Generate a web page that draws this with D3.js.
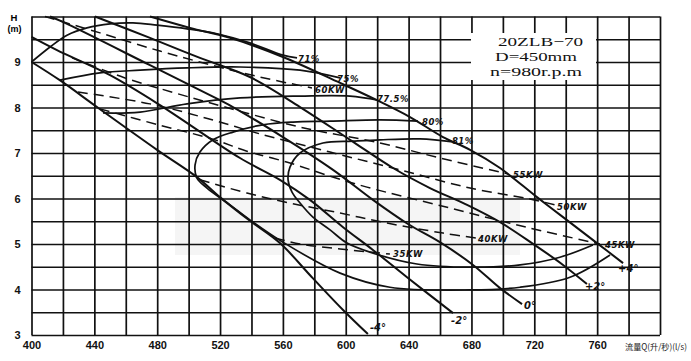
<!DOCTYPE html>
<html><head><meta charset="utf-8">
<script src="https://cdn.jsdelivr.net/npm/d3@7"></script>
<style>body{margin:0;background:#fff}svg{display:block}</style>
</head><body>
<svg id="c" width="691" height="361"></svg>
<script>
// ---------- data ----------
const xTicks = [400,440,480,520,560,600,640,680,720,760];
const yTicks = [3,4,5,6,7,8,9];
const titleLines = ["20ZLB\u221270","D=450mm","n=980r.p.m"];
const xTitle = "流量Q(升/秒)(l/s)";

// H-Q curves by blade angle [Q (l/s), H (m)]
const bladeNames = ["-4°","-2°","0°","+2°","+4°"];
const bladeM4 = [[400,9.0],[418,8.60],[441.7,8.01],[479.9,7.07],[505.3,6.47],[519.9,6.03],[539,5.51],[558.1,5.02],[579,4.25],[598.3,3.55],[614.1,3.02]];
const bladeM2 = [[400,9.55],[416.2,9.26],[450,8.71],[483.7,8.01],[532.7,6.89],[558.1,6.41],[577.2,5.97],[598.3,5.37],[617.3,4.87],[639,4.27],[668.3,3.48]];
const blade0  = [[411.8,10],[420,9.88],[475.4,8.93],[507.2,8.38],[528.2,8.01],[560,7.35],[591.9,6.63],[617.3,5.97],[639.6,5.44],[659.9,5.04],[681,4.54],[698.2,4.03],[712.2,3.68]];
const bladeP2 = [[440.4,10],[475.4,9.53],[507.2,9.09],[539,8.67],[570.9,8.01],[602.7,7.29],[630.1,6.67],[653.6,6.23],[677.2,5.86],[698.2,5.48],[718.5,5.02],[738.3,4.54],[753.5,4.12]];
const bladeP4 = [[475.4,10],[500.9,9.75],[526.3,9.53],[560,9.11],[596.4,8.54],[619.9,8.16],[640.9,7.79],[661.9,7.35],[679.1,7.07],[698.2,6.67],[721.7,6.03],[738.3,5.59],[759.9,5.02],[776.5,4.58]];

// iso-efficiency curves
const effNames = ["71%","75%","77.5%","80%","81%"];
const eff71  = [[400,9.0],[411.8,9.33],[422.6,9.59],[435.3,9.75],[450,9.84],[464.6,9.86],[479.9,9.81],[499,9.73],[518,9.62],[539,9.42],[560,9.15],[569,9.09]];
const eff75  = [[418.1,8.6],[443.6,8.76],[469.1,8.82],[499,8.87],[532.7,8.89],[570.9,8.82],[596.4,8.65]];
const eff775 = [[445.5,7.88],[469.1,7.9],[499,8.08],[532.7,8.21],[570.9,8.25],[602.7,8.25],[620.5,8.16]];
const eff80  = [[646,7.70],[621.8,7.73],[590,7.70],[566.4,7.68],[547.3,7.62],[528.2,7.46],[515.5,7.29],[507.2,7.02],[504.1,6.74],[505.3,6.45],[511.7,6.23],[526.3,5.86],[539,5.53],[560,5.04],[596.4,4.36],[628.1,4.05],[679.1,3.99],[711,4.05],[742.7,4.27],[768.2,4.76]];
const eff81  = [[669.5,7.24],[647.2,7.31],[621.8,7.29],[604.6,7.26],[585.5,7.22],[570.9,7.0],[564.5,6.69],[563.3,6.41],[565.8,6.14],[570.9,5.9],[579.1,5.59],[590,5.31],[600.8,5.02],[615.4,4.82],[645.3,4.56],[679.1,4.49],[711,4.54],[736.3,4.71],[757.3,4.98]];

// iso-power curves (dashed)
const powNames = ["60KW","55KW","50KW","45KW","40KW","35KW"];
const pow60 = [[408.6,10],[443.6,9.64],[481.8,9.24],[514.9,8.93],[545.4,8.67],[578.5,8.43]];
const pow55 = [[425.8,9.09],[459.5,8.65],[491.3,8.32],[523.1,8.01],[570.9,7.57],[621.8,7.22],[659.9,6.89],[703.3,6.54]];
const pow50 = [[429.6,8.34],[475.4,8.08],[514.9,7.73],[545.4,7.42],[590,7.02],[634.5,6.63],[679.1,6.23],[717.2,5.99],[733.2,5.86]];
const pow45 = [[443.6,7.97],[480.5,7.62],[514.9,7.31],[537.1,7.04],[564.5,6.78],[590,6.49],[613.5,6.25],[666.4,5.79],[717.2,5.35],[761.8,5.0]];
const pow40 = [[507.2,6.41],[537.1,6.12],[564.5,5.9],[596.4,5.68],[626.3,5.46],[661.9,5.24],[683.6,5.13]];
const pow35 = [[555,5.13],[570.9,5.0],[596.4,4.89],[628.1,4.78]];

// ---------- layout ----------
const svg = d3.select("#c");
const L = 31.5, R = 660, T = 16.5, B = 335;
const x = d3.scaleLinear().domain([400,800]).range([L,R]);
const y = d3.scaleLinear().domain([3,10]).range([B,T]);

svg.append("rect").attr("width",691).attr("height",361).attr("fill","#fff");

// faint watermark blocks
svg.append("rect").attr("x",175).attr("y",197).attr("width",345).attr("height",58).attr("fill","#f5f5f5");

// grid
const gx = svg.append("g").attr("transform",`translate(0,${B})`)
  .call(d3.axisBottom(x).tickValues(d3.range(400,801,20)).tickSize(-(B-T)).tickFormat(""));
const gy = svg.append("g").attr("transform",`translate(${L},0)`)
  .call(d3.axisLeft(y).tickValues(d3.range(3,10.01,0.5)).tickSize(-(R-L)).tickFormat(""));
[gx,gy].forEach(g=>{g.select(".domain").remove();g.selectAll("line").attr("stroke","#111").attr("stroke-width",1.7);});

// title box
svg.append("rect").attr("x",471).attr("y",33).attr("width",125).attr("height",47).attr("fill","#fff");
const tW=[85,82,92], tX=[498,495,490], tY=[46,61,76];
titleLines.forEach((t,i)=>svg.append("text").attr("x",tX[i]).attr("y",tY[i])
  .attr("font-family","Liberation Serif, serif").attr("font-size",13).attr("fill","#111")
  .attr("textLength",tW[i]).attr("lengthAdjust","spacingAndGlyphs").text(t));

// tick labels
const ax = svg.append("g").attr("transform",`translate(0,${B})`)
  .call(d3.axisBottom(x).tickValues(xTicks).tickSize(0).tickPadding(6).tickFormat(d3.format("d")));
ax.select(".domain").remove();
ax.selectAll("text").attr("font-family","Liberation Sans, Arial, sans-serif").attr("font-weight","bold").attr("font-size",11).attr("fill","#111");
const ay = svg.append("g").attr("transform",`translate(${L},0)`)
  .call(d3.axisLeft(y).tickValues(yTicks).tickSize(0).tickPadding(11).tickFormat(d3.format("d")));
ay.select(".domain").remove();
ay.selectAll("text").attr("font-family","Liberation Sans, Arial, sans-serif").attr("font-weight","bold").attr("font-size",11).attr("fill","#111");

svg.append("text").attr("x",14).attr("y",21).attr("text-anchor","middle").attr("font-family","Liberation Sans, Arial, sans-serif").attr("font-weight","bold").attr("font-size",9.5).text("H");
svg.append("text").attr("x",14.5).attr("y",32).attr("text-anchor","middle").attr("font-family","Liberation Sans, Arial, sans-serif").attr("font-weight","bold").attr("font-size",9).text("(m)");
svg.append("text").attr("x",625).attr("y",350).attr("font-family","Noto Sans CJK SC, serif").attr("font-size",8.5).attr("fill","#222")
  .attr("textLength",62).attr("lengthAdjust","spacingAndGlyphs").text(xTitle);

// curves
const line = d3.line().x(d=>x(d[0])).y(d=>y(d[1])).curve(d3.curveCatmullRom.alpha(0.5));
const labelStyle = s=>s.attr("font-family","DejaVu Sans, sans-serif").attr("font-style","italic").attr("font-weight","bold").attr("fill","#111");

const powSeries = [pow60,pow55,pow50,pow45,pow40,pow35];
const powOff = [[3,5],[5,4],[2,5],[5,4],[1,4],[3,3]];
powSeries.forEach((s,i)=>{
  svg.append("path").attr("d",line(s)).attr("fill","none").attr("stroke","#111").attr("stroke-width",1.5).attr("stroke-dasharray","10,6");
  const e=s[s.length-1];
  svg.append("text").attr("x",x(e[0])+powOff[i][0]).attr("y",y(e[1])+powOff[i][1]).attr("font-size",8.5)
    .attr("letter-spacing",0.6).call(labelStyle).text(powNames[i]);
});

const effSeries = [eff71,eff75,eff775,eff80,eff81];
const effOff = [[1,4],[-3,4],[-1,2],[4,4],[-3,2]];
effSeries.forEach((s,i)=>{
  svg.append("path").attr("d",line(s)).attr("fill","none").attr("stroke","#111").attr("stroke-width",1.7);
  const e = i<3 ? s[s.length-1] : s[0];
  svg.append("text").attr("x",x(e[0])+effOff[i][0]).attr("y",y(e[1])+effOff[i][1]).attr("font-size",8.5)
    .attr("letter-spacing",0.5).call(labelStyle).text(effNames[i]);
});

const bladeSeries = [bladeM4,bladeM2,blade0,bladeP2,bladeP4];
const bladeOff = [[2,-3],[-2,11],[2,5],[-2,6],[-5,9]];
bladeSeries.forEach((s,i)=>{
  svg.append("path").attr("d",line(s)).attr("fill","none").attr("stroke","#111").attr("stroke-width",2);
  const e=s[s.length-1];
  svg.append("text").attr("x",x(e[0])+bladeOff[i][0]).attr("y",y(e[1])+bladeOff[i][1]).attr("font-size",10)
    .call(labelStyle).text(bladeNames[i]);
});
</script>
</body></html>
